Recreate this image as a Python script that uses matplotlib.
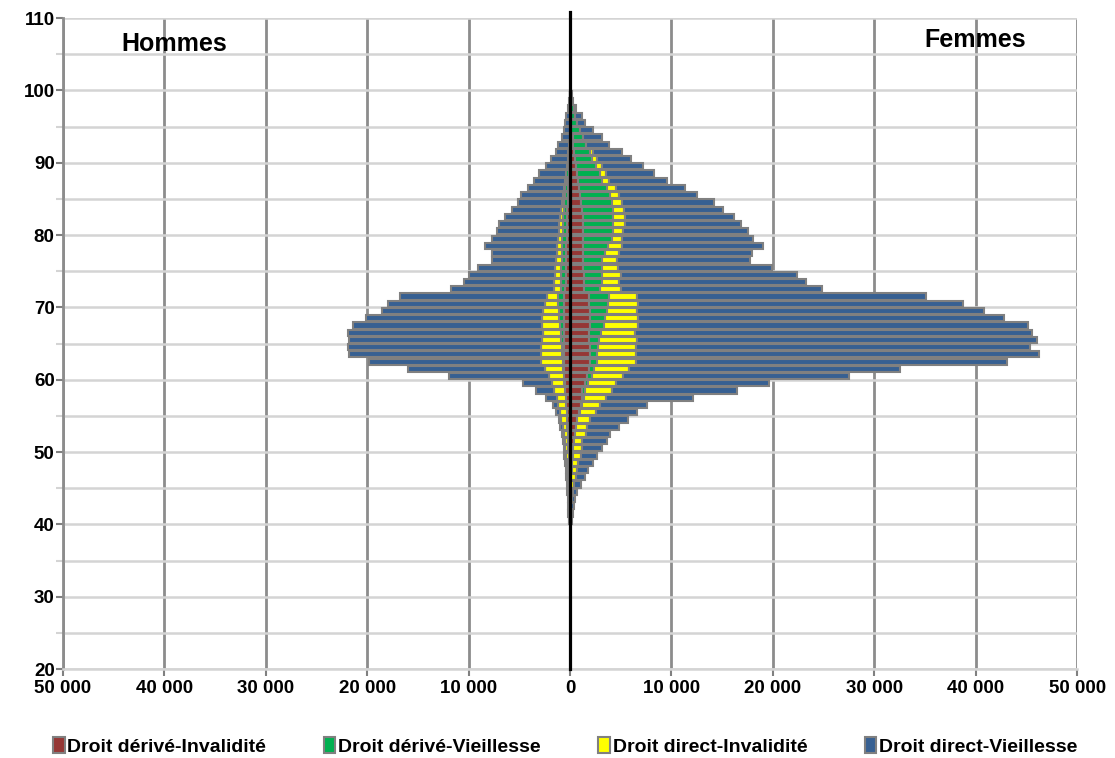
import numpy as np
import matplotlib
matplotlib.use('Agg')
import matplotlib.pyplot as plt

plt.rcParams['font.family'] = ['Liberation Sans', 'DejaVu Sans']
plt.rcParams['font.weight'] = 'bold'

# ages 40..99 (one bar per year of age)
ages = list(range(40, 100))

# Femmes
f_derive_inv = [20, 30, 40, 60, 80, 100, 120, 150, 200, 250, 300, 350, 450, 550, 650, 850, 1050, 1220, 1220, 1450,
                1640, 1870, 1970, 1970, 1970, 1870, 1870, 1970, 1970, 1970, 1870, 1870, 1400, 1350, 1350, 1300, 1300, 1300, 1300, 1300,
                1300, 1300, 1250, 1200, 1100, 1000, 900, 750, 650, 550, 450, 350, 300, 260, 100, 50, 50, 20, 0, 0]
f_derive_vie = [10, 10, 10, 20, 20, 20, 20, 30, 30, 30, 40, 50, 50, 50, 70, 100, 100, 130, 280, 320,
                500, 500, 660, 730, 790, 990, 1220, 1380, 1450, 1650, 1910, 1980, 1560, 1770, 1770, 1820, 1820, 2150, 2480, 2810,
                2910, 2910, 2960, 3010, 3010, 2940, 2780, 2370, 2310, 1980, 1690, 1620, 1240, 1050, 890, 610, 450, 330, 150, 50]
f_direct_inv = [10, 20, 50, 70, 150, 280, 480, 540, 590, 780, 810, 810, 1040, 1040, 1250, 1580, 1850, 2170, 2610, 2800,
                3040, 3400, 3880, 3810, 3750, 3710, 3320, 3390, 3320, 3020, 2960, 2790, 2070, 1740, 1910, 1650, 1480, 1380, 1320, 1050,
                1050, 1210, 1210, 1110, 1050, 890, 860, 760, 590, 590, 490, 330, 60, 0, 0, 0, 0, 0, 0, 0]
f_direct_vie = [110, 190, 250, 350, 450, 650, 830, 1090, 1420, 1570, 1970, 2410, 2400, 3220, 3780, 4040, 4620, 8640, 12330, 15050,
                22330, 26770, 36610, 39770, 38850, 39440, 39110, 38390, 36050, 34210, 31980, 28430, 19790, 18410, 17380, 15120, 13150, 13090, 13960, 12850,
                12320, 11410, 10750, 9800, 9070, 7660, 6800, 5650, 4770, 4050, 3390, 2800, 2280, 1810, 1250, 820, 680, 250, 150, 100]

# Hommes
h_derive_inv = [20, 30, 40, 50, 60, 70, 80, 90, 110, 130, 150, 170, 200, 230, 260, 300, 350, 400, 450, 500,
                550, 580, 600, 600, 600, 600, 600, 600, 600, 600, 590, 590, 450, 420, 400, 380, 350, 350, 350, 330,
                330, 320, 300, 270, 250, 220, 200, 180, 150, 130, 100, 80, 50, 0, 0, 0, 0, 0, 0, 0]
h_derive_vie = [10, 10, 10, 10, 10, 10, 10, 15, 15, 15, 20, 20, 20, 25, 30, 30, 30, 30, 40, 50,
                60, 80, 120, 150, 200, 250, 300, 350, 450, 500, 550, 590, 480, 480, 480, 480, 450, 450, 450, 420,
                400, 380, 350, 330, 300, 280, 250, 230, 200, 180, 150, 120, 100, 50, 50, 50, 30, 20, 0, 0]
h_direct_inv = [40, 50, 60, 80, 100, 120, 150, 180, 220, 260, 300, 350, 420, 480, 560, 680, 810, 880, 1090, 1260,
                1460, 1800, 2170, 2140, 2090, 1940, 1800, 1780, 1680, 1530, 1320, 1060, 700, 650, 600, 580, 550, 500, 500, 450,
                400, 350, 300, 250, 200, 150, 100, 50, 0, 0, 0, 0, 0, 0, 0, 0, 0, 0, 0, 0]
h_direct_vie = [70, 80, 90, 100, 110, 130, 140, 145, 135, 145, 150, 160, 180, 215, 250, 390, 510, 1060, 1770, 2790,
                9830, 13480, 16900, 18910, 18970, 18970, 19160, 18630, 17380, 15940, 15450, 14520, 10100, 8870, 8450, 7600, 6310, 6360, 7080, 6460,
                6100, 5920, 5460, 4840, 4410, 4180, 3620, 3090, 2680, 2090, 1660, 1210, 1000, 780, 550, 450, 320, 180, 100, 50]

labels = ['Droit dérivé-Invalidité', 'Droit dérivé-Vieillesse',
          'Droit direct-Invalidité', 'Droit direct-Vieillesse']
colors = ['#953735', '#00b050', '#ffff00', '#376092']

fig = plt.figure(figsize=(11.15, 7.58), dpi=100)
ax = fig.add_axes([0.0565, 0.1174, 0.9095, 0.8588])

y = np.array(ages) + 0.5
edge = '#808080'
h = 0.85

# women on the right, men on the left, stacked from the centre outwards
left_f = np.zeros(len(ages))
left_h = np.zeros(len(ages))
handles = []
for fvals, hvals, col, lab in zip([f_derive_inv, f_derive_vie, f_direct_inv, f_direct_vie],
                                  [h_derive_inv, h_derive_vie, h_direct_inv, h_direct_vie],
                                  colors, labels):
    fv = np.array(fvals, dtype=float)
    hv = np.array(hvals, dtype=float)
    b = ax.barh(y, fv, left=left_f, height=h, color=col, edgecolor=edge, linewidth=1.5, label=lab, zorder=3)
    ax.barh(y, -hv, left=-left_h, height=h, color=col, edgecolor=edge, linewidth=1.5, zorder=3)
    left_f += fv
    left_h += hv
    handles.append(b)

ax.axvline(0, color='black', lw=2.3, zorder=5, ymax=1.01, clip_on=False)

ax.set_xlim(-50000, 50000)
ax.set_ylim(20, 110)
ax.set_xticks(np.arange(-50000, 50001, 10000))
ax.set_xticklabels([f"{abs(v):,}".replace(',', ' ') for v in range(-50000, 50001, 10000)])
ax.set_yticks(np.arange(20, 111, 10))
ax.set_yticks(np.arange(20, 111, 5), minor=True)
ax.tick_params(axis='both', labelsize=13.5, colors='#808080', labelcolor='black', length=5, width=1.5)
ax.tick_params(axis='y', which='minor', length=5, width=1.5, colors='#d4d4d4')
ax.tick_params(axis='y', pad=1)
ax.tick_params(axis='x', pad=3)

ax.set_axisbelow(True)
ax.grid(axis='x', color='#8c8c8c', lw=2.0)
ax.grid(axis='y', which='both', color='#d4d4d4', lw=1.8)
for s in ['top', 'right']:
    ax.spines[s].set_visible(False)
ax.spines['left'].set_color('#8c8c8c')
ax.spines['left'].set_linewidth(2.0)
ax.spines['bottom'].set_color('#d4d4d4')
ax.spines['bottom'].set_linewidth(1.8)

for t in ax.get_xticklabels() + ax.get_yticklabels():
    t.set_fontweight('bold')

ax.text(-39000, 106.4, 'Hommes', fontsize=18, fontweight='bold', ha='center', va='center')
ax.text(40000, 107.0, 'Femmes', fontsize=18, fontweight='bold', ha='center', va='center')

fig.legend(handles=handles, labels=labels, loc='lower center', bbox_to_anchor=(0.507, -0.02),
           ncol=4, frameon=False, handlelength=0.6, handleheight=0.9,
           handletextpad=0.15, columnspacing=2.95, prop={'weight': 'bold', 'size': 14})

fig.savefig('out.png', dpi=100)
